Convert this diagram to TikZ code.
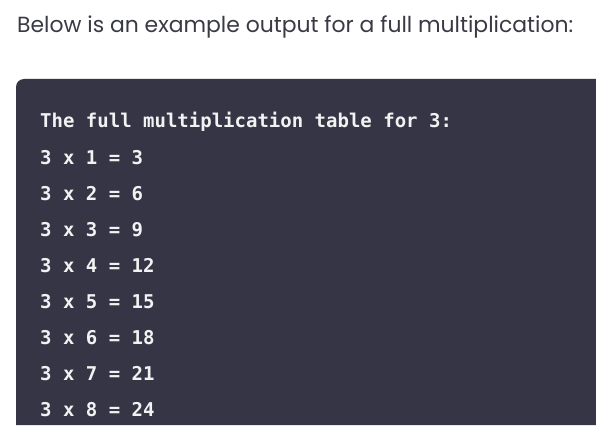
\documentclass[tikz,border=0pt]{standalone}
\usepackage{fontspec}
\setmainfont{Poppins}
\newfontfamily\codefont{DejaVu Sans Mono}
\definecolor{boxbg}{HTML}{363546}
\definecolor{headtext}{HTML}{3A3A46}
\definecolor{codetext}{HTML}{F2F2F2}
\begin{document}
\begin{tikzpicture}[x=1pt,y=-1pt,
  codeline/.style={anchor=base west,inner sep=0pt,text=codetext,font=\codefont\bfseries\fontsize{19}{19}\selectfont},
  codehead/.style={codeline,font=\codefont\bfseries\fontsize{19}{19}\selectfont}]
\useasboundingbox (0,0) rectangle (596,425);
\fill[white] (0,0) rectangle (596,425);
\fill[boxbg] (596,425) -- (16,425) -- (16,87) .. controls (16,82.6) and (19.6,79) .. (24,79) -- (596,79) -- cycle;
\node[anchor=base west,inner sep=0pt,text=headtext,font=\fontsize{21.9}{22}\selectfont] (intro) at (17,33) {Below is an example output for a full multiplication:};
\node[codehead] (head) at (40,128) {The full multiplication table for 3:};
\node[codeline] (r1) at (40,164) {3 x 1 = 3};
\node[codeline] (r2) at (40,200) {3 x 2 = 6};
\node[codeline] (r3) at (40,236) {3 x 3 = 9};
\node[codeline] (r4) at (40,272) {3 x 4 = 12};
\node[codeline] (r5) at (40,308) {3 x 5 = 15};
\node[codeline] (r6) at (40,344) {3 x 6 = 18};
\node[codeline] (r7) at (40,380) {3 x 7 = 21};
\node[codeline] (r8) at (40,416) {3 x 8 = 24};
\end{tikzpicture}
\end{document}
